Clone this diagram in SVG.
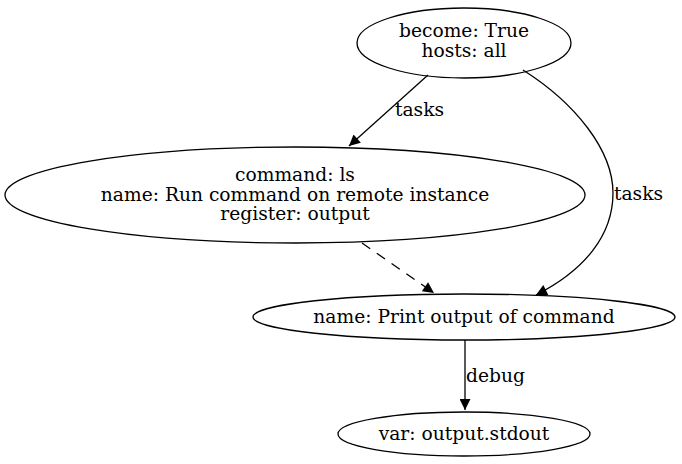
<svg xmlns="http://www.w3.org/2000/svg" width="682" height="464" viewBox="0 0 682 464">
<style>
.n ellipse{fill:none;stroke:#000;stroke-width:1.3}
text{font-family:"DejaVu Serif","Liberation Serif",serif;font-size:18.67px;fill:#000}
.n text{text-anchor:middle}
.e path{fill:none;stroke:#000;stroke-width:1.3;marker-end:url(#ah)}
.dash{stroke-dasharray:10,8}
</style>
<defs>
<marker id="ah" viewBox="0 0 10 10" refX="10" refY="5" markerUnits="userSpaceOnUse" markerWidth="14" markerHeight="11" orient="auto">
<path d="M0,0 L10,5 L0,10 z" fill="#000"/>
</marker>
</defs>
<rect width="682" height="464" fill="#fff"/>
<g id="edges" class="e">
<path d="M428,75 L349,146"/>
<path d="M523,70 C575,103 613,150 613,193 C613,235 585,270 536,295"/>
<path class="dash" d="M362,243 L434,293"/>
<path d="M465,340 L465,410"/>
<text x="395" y="116">tasks</text>
<text x="614" y="200">tasks</text>
<text x="466" y="382">debug</text>
</g>
<g id="node1" class="n">
<ellipse cx="464" cy="43" rx="107" ry="35"/>
<text x="464" y="37">become: True</text>
<text x="464" y="57">hosts: all</text>
</g>
<g id="node2" class="n">
<ellipse cx="295" cy="195" rx="290" ry="48"/>
<text x="295" y="181">command: ls</text>
<text x="295" y="201">name: Run command on remote instance</text>
<text x="295" y="220">register: output</text>
</g>
<g id="node3" class="n">
<ellipse cx="464" cy="317" rx="211" ry="23"/>
<text x="464" y="323">name: Print output of command</text>
</g>
<g id="node4" class="n">
<ellipse cx="464" cy="434" rx="126" ry="22"/>
<text x="464" y="440">var: output.stdout</text>
</g>
</svg>
